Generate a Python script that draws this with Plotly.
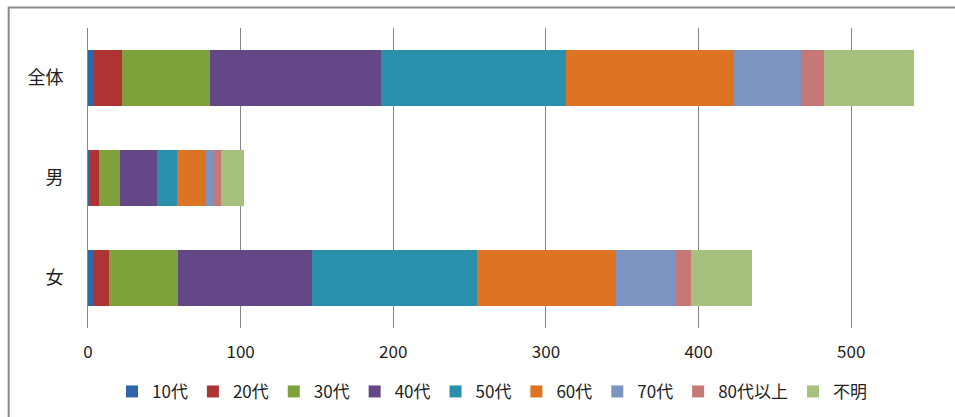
import plotly.graph_objects as go

categories = ["全体", "男", "女"]
series_names = ["10代", "20代", "30代", "40代", "50代", "60代", "70代", "80代以上", "不明"]
v_10 = [4, 1, 3]
v_20 = [18, 6, 11]
v_30 = [58, 14, 45]
v_40 = [112, 24, 88]
v_50 = [121, 13, 108]
v_60 = [110, 19, 91]
v_70 = [44, 5, 39]
v_80 = [15, 5, 10]
v_unknown = [59, 15, 40]
x_ticks = [0, 100, 200, 300, 400, 500]

values = [v_10, v_20, v_30, v_40, v_50, v_60, v_70, v_80, v_unknown]
colors = ["#2F67AA", "#AE3433", "#7EA13C", "#644786", "#2A8FAA",
          "#DC7423", "#7B94C0", "#C67877", "#A6C07E"]

font_family = "Noto Sans CJK JP"

fig = go.Figure()
for name, vals, col in zip(series_names, values, colors):
    fig.add_trace(go.Bar(
        y=categories, x=vals, name=name, orientation="h",
        marker=dict(color=col, line=dict(width=0)),
        width=0.56,
    ))

fig.update_layout(
    width=955, height=417,
    barmode="stack",
    plot_bgcolor="white", paper_bgcolor="white",
    margin=dict(l=88, r=0, t=28, b=89),
    font=dict(family=font_family, color="#222222"),
    showlegend=True,
    legend=dict(
        orientation="h", x=0.466, xanchor="center", y=-0.213, yanchor="middle",
        font=dict(size=17, family=font_family, color="#222222"),
        itemwidth=30, traceorder="normal", tracegroupgap=0,
    ),
    xaxis=dict(
        range=[0, 568], tickvals=x_ticks, ticktext=[str(t) for t in x_ticks],
        showgrid=True, gridcolor="#868686", gridwidth=1,
        zeroline=False, showline=False,
        tickfont=dict(size=17, family=font_family, color="#222222"),
        ticklabelstandoff=12, ticks="",
    ),
    yaxis=dict(
        categoryorder="array", categoryarray=categories, autorange="reversed",
        showgrid=False, zeroline=False, showline=True, linecolor="#868686", linewidth=1,
        tickfont=dict(size=18, family=font_family, color="#222222"),
        ticklabelstandoff=20, ticks="",
    ),
    shapes=[dict(
        type="rect", xref="paper", yref="paper",
        x0=-0.0915, x1=1.2, y0=-0.5, y1=1.068,
        line=dict(color="#898989", width=2), fillcolor="rgba(0,0,0,0)", layer="below",
    )],
)

fig.write_html("out.html")
